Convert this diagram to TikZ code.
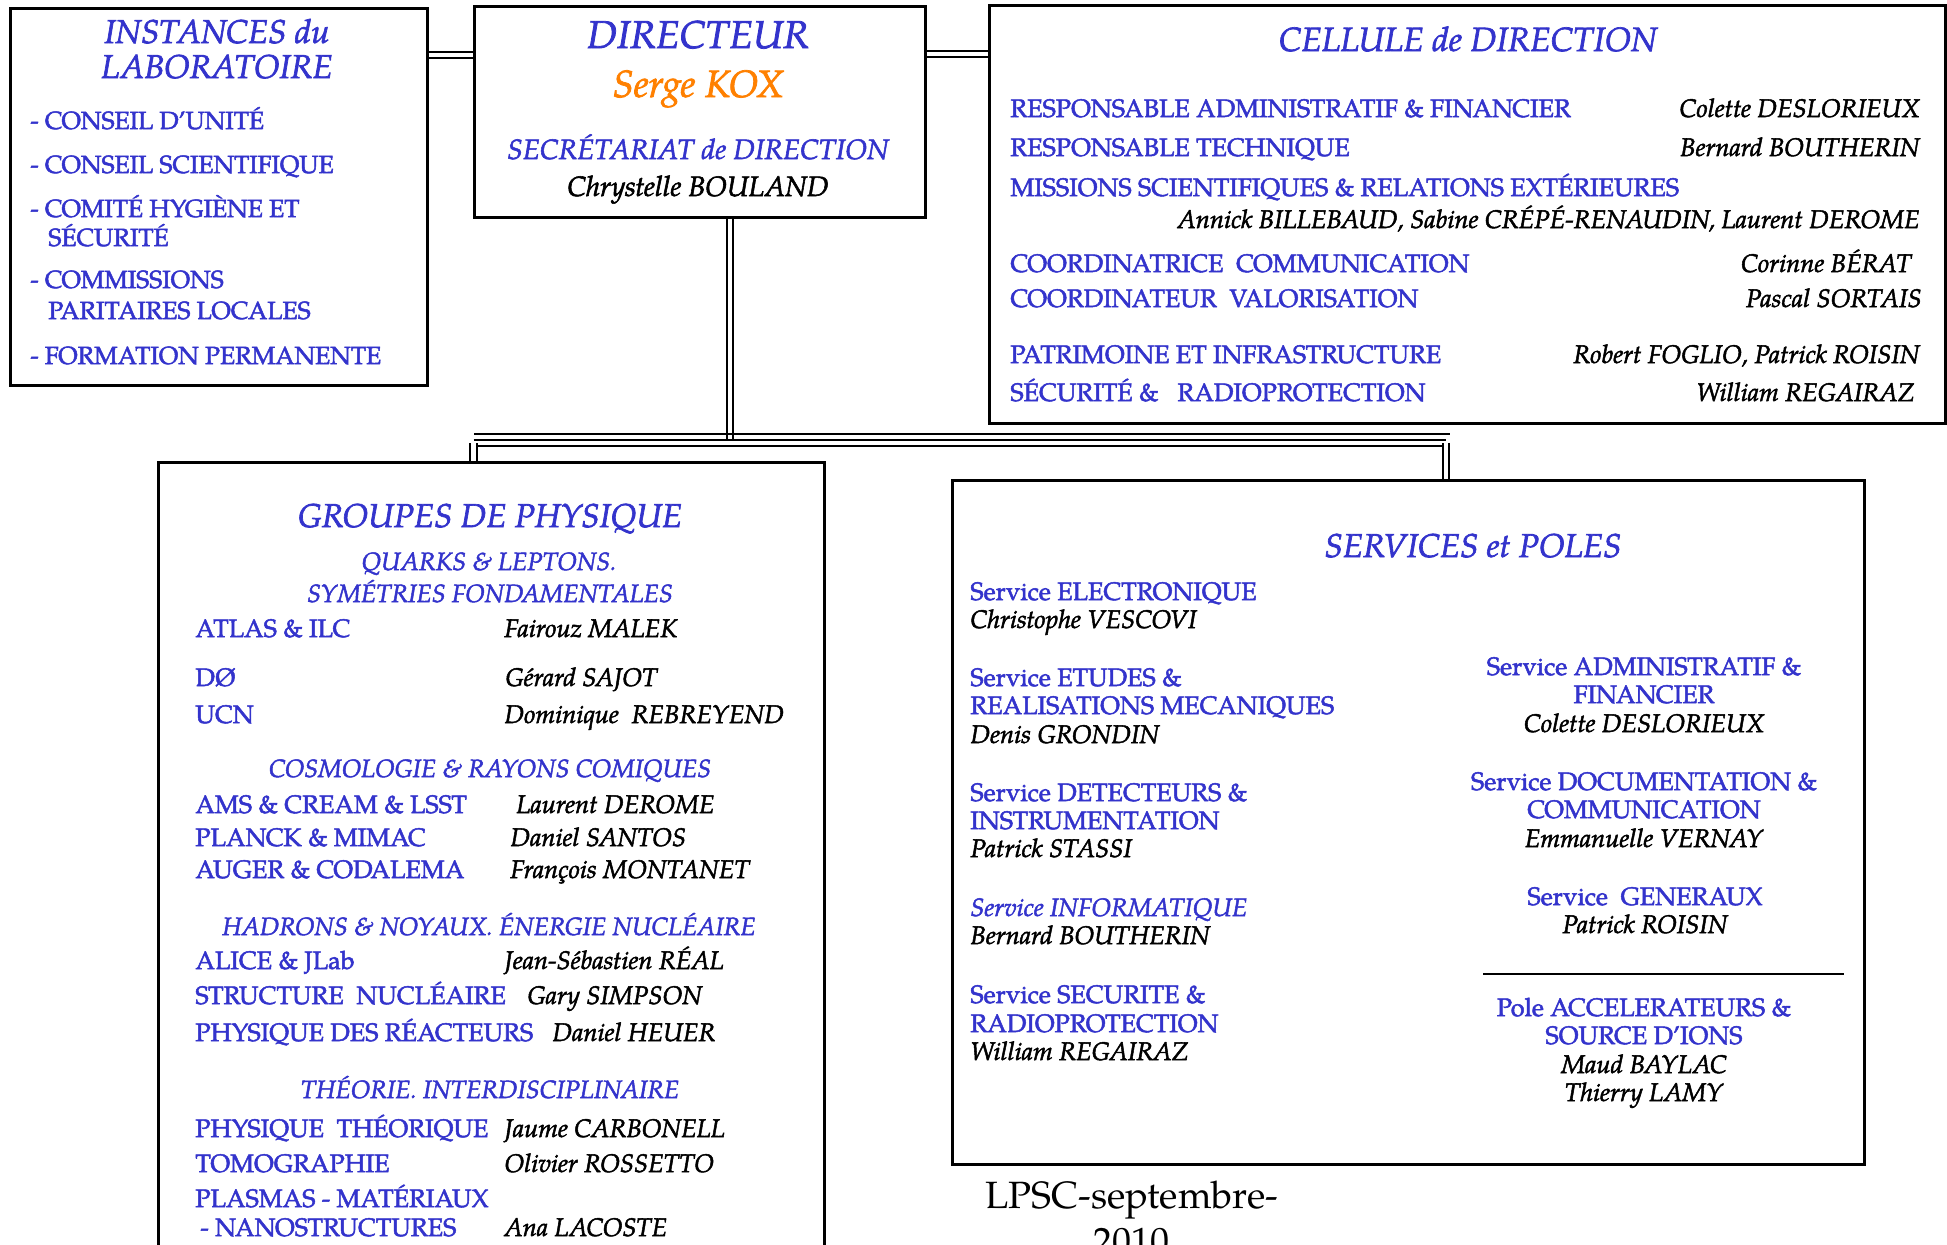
\documentclass[tikz,border=0pt]{standalone}
\usepackage{fontspec}
\setmainfont{TeX Gyre Pagella}
\definecolor{lblue}{RGB}{51,51,204}
\definecolor{lorange}{RGB}{255,128,0}
\newcommand{\fb}{\addfontfeature{FakeBold=2}}
\tikzset{
  box/.style={draw=black, line width=1.3pt, inner sep=0pt, anchor=north west},
  lab/.style={text=lblue, font=\fontsize{12.6}{14}\selectfont\fb, anchor=base west, inner sep=0pt},
  labc/.style={text=lblue, font=\fontsize{12.6}{14}\selectfont\fb, anchor=base, inner sep=0pt},
  nam/.style={text=black, font=\fontsize{12.7}{14}\selectfont\itshape\fb, anchor=base west, inner sep=0pt},
  namr/.style={text=black, font=\fontsize{12.7}{14}\selectfont\itshape\fb, anchor=base east, inner sep=0pt},
  namc/.style={text=black, font=\fontsize{12.7}{14}\selectfont\itshape\fb, anchor=base, inner sep=0pt},
  sub/.style={text=lblue, font=\fontsize{12.5}{14}\selectfont\itshape\fb, anchor=base, inner sep=0pt},
  ttl/.style={text=lblue, font=\fontsize{16.5}{19}\selectfont\itshape\fb, anchor=base, inner sep=0pt},
  dbl/.style={draw=black, line width=1pt, double=white, double distance=2.2pt},
}
\begin{document}
\begin{tikzpicture}[x=0.5pt, y=-0.5pt]
\useasboundingbox (0,0) rectangle (1947,1245);
\clip (0,0) rectangle (1947,1245);
\fill[white] (0,0) rectangle (1947,1245);

% boxes
\node[box, minimum width=208.5pt, minimum height=188.5pt] (inst) at (9,7) {};
\node[box, minimum width=225.5pt, minimum height=105.5pt] (dir) at (473,5) {};
\node[box, minimum width=478pt, minimum height=209pt] (cell) at (988,4) {};
\node[box, minimum width=333pt, minimum height=450pt] (grp) at (157,461) {};
\node[box, minimum width=456pt, minimum height=342pt] (serv) at (951,479) {};

% connectors
\draw[dbl] (inst.east |- 0,55) -- (dir.west |- 0,55);
\draw[dbl] (dir.east |- 0,54) -- (cell.west |- 0,54);
\coordinate (busL) at (473.5,443);
\coordinate (busR) at (1446,443);
\coordinate (busT) at (730,443);
\draw[dbl] (dir.south -| busT) -- (busT);
\draw[line width=1.1pt] (474,434) -- (1450,434);
\draw[dbl] (busL) -- (busR);
\draw[dbl] (busL) -- (grp.north -| busL);
\draw[dbl, double distance=1.6pt, line width=1.3pt] (busR) -- (serv.north -| busR);

% INSTANCES
\node[ttl] (i1) at (217,43) {INSTANCES du};
\node[ttl] (i2) at (217,78) {LABORATOIRE};
\node[lab, font=\fontsize{12.4}{14}\selectfont\fb] (i3) at (30,129) {- CONSEIL D'UNITÉ};
\node[lab, font=\fontsize{12.4}{14}\selectfont\fb] (i4) at (30,173) {- CONSEIL SCIENTIFIQUE};
\node[lab, font=\fontsize{12.4}{14}\selectfont\fb] (i5) at (30,217) {- COMITÉ HYGIÈNE ET};
\node[lab, font=\fontsize{12.4}{14}\selectfont\fb] (i6) at (48,246) {SÉCURITÉ};
\node[lab, font=\fontsize{12.4}{14}\selectfont\fb] (i7) at (30,288) {- COMMISSIONS};
\node[lab, font=\fontsize{12.4}{14}\selectfont\fb] (i8) at (48,319) {PARITAIRES LOCALES};
\node[lab, font=\fontsize{12.4}{14}\selectfont\fb] (i9) at (30,364) {- FORMATION PERMANENTE};

% DIRECTEUR
\node[ttl, font=\fontsize{19.4}{22}\selectfont\itshape\fb] (d1) at (698,48) {DIRECTEUR};
\node[ttl, text=lorange, font=\fontsize{19}{22}\selectfont\itshape\fb] (d2) at (698,97) {Serge KOX};
\node[sub, font=\fontsize{14}{16}\selectfont\itshape\fb] (d3) at (698,159) {SECRÉTARIAT de DIRECTION};
\node[namc, font=\fontsize{14}{16}\selectfont\itshape\fb] (d4) at (698,196) {Chrystelle BOULAND};

% CELLULE
\node[ttl, font=\fontsize{16.8}{19}\selectfont\itshape\fb] (c0) at (1468,51) {CELLULE de DIRECTION};
\node[lab] (c1) at (1010,117) {RESPONSABLE ADMINISTRATIF \& FINANCIER};
\node[namr] (c1n) at (1920,117) {Colette DESLORIEUX};
\node[lab] (c2) at (1010,156) {RESPONSABLE TECHNIQUE};
\node[namr] (c2n) at (1920,156) {Bernard BOUTHERIN};
\node[lab] (c3) at (1010,196) {MISSIONS SCIENTIFIQUES \& RELATIONS EXTÉRIEURES};
\node[namr] (c3n) at (1920,228) {Annick BILLEBAUD, Sabine CRÉPÉ-RENAUDIN, Laurent DEROME};
\node[lab] (c4) at (1010,272) {COORDINATRICE\ \ COMMUNICATION};
\node[namr] (c4n) at (1912,272) {Corinne BÉRAT};
\node[lab] (c5) at (1010,307) {COORDINATEUR\ \ VALORISATION};
\node[namr] (c5n) at (1922,307) {Pascal SORTAIS};
\node[lab] (c6) at (1010,363) {PATRIMOINE ET INFRASTRUCTURE};
\node[namr] (c6n) at (1920,363) {Robert FOGLIO, Patrick ROISIN};
\node[lab] (c7) at (1010,401) {SÉCURITÉ \&\ \ \ RADIOPROTECTION};
\node[namr] (c7n) at (1915,401) {William REGAIRAZ};

% GROUPES
\node[ttl] (g0) at (490,527) {GROUPES DE PHYSIQUE};
\node[sub] (g1) at (489,570) {QUARKS \& LEPTONS.};
\node[sub] (g2) at (490,602) {SYMÉTRIES FONDAMENTALES};
\node[lab] (g3) at (195,637) {ATLAS \& ILC};
\node[nam] (g3n) at (504,637) {Fairouz MALEK};
\node[lab] (g4) at (195,686) {DØ};
\node[nam] (g4n) at (505,686) {Gérard SAJOT};
\node[lab] (g5) at (195,723) {UCN};
\node[nam] (g5n) at (504,723) {Dominique\ \ REBREYEND};
\node[sub] (g6) at (490,777) {COSMOLOGIE \& RAYONS COMIQUES};
\node[lab] (g7) at (195,813) {AMS \& CREAM \& LSST};
\node[nam] (g7n) at (516,813) {Laurent DEROME};
\node[lab] (g8) at (195,846) {PLANCK \& MIMAC};
\node[nam] (g8n) at (510,846) {Daniel SANTOS};
\node[lab] (g9) at (195,878) {AUGER \& CODALEMA};
\node[nam] (g9n) at (510,878) {François MONTANET};
\node[sub] (g10) at (489,935) {HADRONS \& NOYAUX. ÉNERGIE NUCLÉAIRE};
\node[lab] (g11) at (195,969) {ALICE \& JLab};
\node[nam] (g11n) at (504,969) {Jean-Sébastien RÉAL};
\node[lab] (g12) at (195,1004) {STRUCTURE\ \ NUCLÉAIRE};
\node[nam] (g12n) at (527,1004) {Gary SIMPSON};
\node[lab] (g13) at (195,1041) {PHYSIQUE DES RÉACTEURS};
\node[nam] (g13n) at (552,1041) {Daniel HEUER};
\node[sub] (g14) at (490,1098) {THÉORIE. INTERDISCIPLINAIRE};
\node[lab] (g15) at (195,1137) {PHYSIQUE\ \ THÉORIQUE};
\node[nam] (g15n) at (504,1137) {Jaume CARBONELL};
\node[lab] (g16) at (195,1172) {TOMOGRAPHIE};
\node[nam] (g16n) at (504,1172) {Olivier ROSSETTO};
\node[lab] (g17) at (195,1207) {PLASMAS - MATÉRIAUX};
\node[lab] (g18) at (200,1236) {- NANOSTRUCTURES};
\node[nam] (g18n) at (504,1236) {Ana LACOSTE};

% SERVICES
\node[ttl] (s0) at (1473,557) {SERVICES et POLES};
\node[lab] (s1) at (970,600) {Service ELECTRONIQUE};
\node[nam] (s1n) at (970,628) {Christophe VESCOVI};
\node[lab] (s2) at (970,686) {Service ETUDES \&};
\node[lab] (s2b) at (970,714) {REALISATIONS MECANIQUES};
\node[nam] (s2n) at (970,743) {Denis GRONDIN};
\node[lab] (s3) at (970,801) {Service DETECTEURS \&};
\node[lab] (s3b) at (970,829) {INSTRUMENTATION};
\node[nam] (s3n) at (970,857) {Patrick STASSI};
\node[lab, font=\fontsize{12.6}{14}\selectfont\itshape\fb] (s4) at (970,916) {Service INFORMATIQUE};
\node[nam] (s4n) at (970,944) {Bernard BOUTHERIN};
\node[lab] (s5) at (970,1003) {Service SECURITE \&};
\node[lab] (s5b) at (970,1032) {RADIOPROTECTION};
\node[nam] (s5n) at (970,1060) {William REGAIRAZ};

\node[labc] (r1) at (1644,675) {Service ADMINISTRATIF \&};
\node[labc] (r1b) at (1644,703) {FINANCIER};
\node[namc] (r1n) at (1644,732) {Colette DESLORIEUX};
\node[labc] (r2) at (1644,790) {Service DOCUMENTATION \&};
\node[labc] (r2b) at (1644,818) {COMMUNICATION};
\node[namc] (r2n) at (1644,847) {Emmanuelle VERNAY};
\node[labc] (r3) at (1645,905) {Service\ \ GENERAUX};
\node[namc] (r3n) at (1645,933) {Patrick ROISIN};
\coordinate (sepL) at (1483,974);
\coordinate (sepR) at (1844,974);
\draw[line width=1.3pt] (sepL) -- (sepR);
\node[labc] (r4) at (1644,1016) {Pole ACCELERATEURS \&};
\node[labc] (r4b) at (1644,1044) {SOURCE D'IONS};
\node[namc] (r4n) at (1644,1073) {Maud BAYLAC};
\node[namc] (r4m) at (1644,1101) {Thierry LAMY};

% footer
\node[anchor=base, inner sep=0pt, font=\fontsize{19}{22}\selectfont] (f1) at (1132,1208) {LPSC-septembre-};
\node[anchor=base, inner sep=0pt, font=\fontsize{19}{22}\selectfont] (f2) at (1131,1254) {2010};
\end{tikzpicture}
\end{document}
